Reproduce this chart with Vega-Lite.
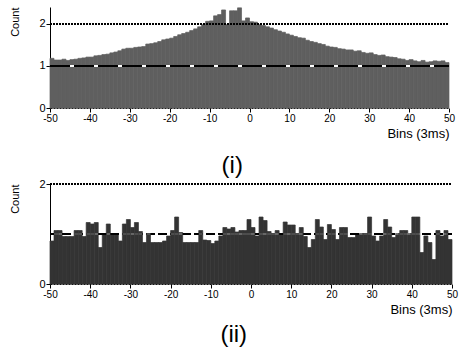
{
  "$schema": "https://vega.github.io/schema/vega-lite/v6.json",
  "padding": {"left": 9, "top": 6, "right": 2, "bottom": 2},
  "background": "white",
  "spacing": 0,
  "config": {
    "view": {"stroke": null},
    "axis": {
      "grid": false,
      "domainColor": "black",
      "tickColor": "black",
      "labelColor": "black",
      "titleColor": "black",
      "labelFont": "Liberation Sans",
      "labelFontSize": 10,
      "titleFont": "Liberation Sans",
      "titleFontWeight": "normal",
      "tickSize": 4,
      "labelPadding": 1,
      "labelFlush": false
    },
    "title": {"font": "Liberation Sans", "fontWeight": "normal", "color": "black"}
  },
  "datasets": {
    "top": [
      {"b":-50,"e":-49,"v":1.18},{"b":-49,"e":-48,"v":1.14},{"b":-48,"e":-47,"v":1.14},{"b":-47,"e":-46,"v":1.16},{"b":-46,"e":-45,"v":1.13},
      {"b":-45,"e":-44,"v":1.15},{"b":-44,"e":-43,"v":1.16},{"b":-43,"e":-42,"v":1.18},{"b":-42,"e":-41,"v":1.19},{"b":-41,"e":-40,"v":1.21},
      {"b":-40,"e":-39,"v":1.21},{"b":-39,"e":-38,"v":1.24},{"b":-38,"e":-37,"v":1.25},{"b":-37,"e":-36,"v":1.27},{"b":-36,"e":-35,"v":1.28},
      {"b":-35,"e":-34,"v":1.31},{"b":-34,"e":-33,"v":1.33},{"b":-33,"e":-32,"v":1.36},{"b":-32,"e":-31,"v":1.4},{"b":-31,"e":-30,"v":1.42},
      {"b":-30,"e":-29,"v":1.42},{"b":-29,"e":-28,"v":1.44},{"b":-28,"e":-27,"v":1.45},{"b":-27,"e":-26,"v":1.46},{"b":-26,"e":-25,"v":1.52},
      {"b":-25,"e":-24,"v":1.53},{"b":-24,"e":-23,"v":1.55},{"b":-23,"e":-22,"v":1.58},{"b":-22,"e":-21,"v":1.62},{"b":-21,"e":-20,"v":1.64},
      {"b":-20,"e":-19,"v":1.66},{"b":-19,"e":-18,"v":1.7},{"b":-18,"e":-17,"v":1.74},{"b":-17,"e":-16,"v":1.77},{"b":-16,"e":-15,"v":1.8},
      {"b":-15,"e":-14,"v":1.84},{"b":-14,"e":-13,"v":1.88},{"b":-13,"e":-12,"v":1.93},{"b":-12,"e":-11,"v":1.98},{"b":-11,"e":-10,"v":2.06},
      {"b":-10,"e":-9,"v":2.07},{"b":-9,"e":-8,"v":2.19},{"b":-8,"e":-7,"v":2.22},{"b":-7,"e":-6,"v":2.33},{"b":-6,"e":-5,"v":1.98},
      {"b":-5,"e":-4,"v":2.31},{"b":-4,"e":-3,"v":2.31},{"b":-3,"e":-2,"v":2.38},{"b":-2,"e":-1,"v":2.07},{"b":-1,"e":0,"v":2.14},
      {"b":0,"e":1,"v":2.05},{"b":1,"e":2,"v":2.04},{"b":2,"e":3,"v":1.98},{"b":3,"e":4,"v":1.96},{"b":4,"e":5,"v":1.93},
      {"b":5,"e":6,"v":1.9},{"b":6,"e":7,"v":1.86},{"b":7,"e":8,"v":1.83},{"b":8,"e":9,"v":1.8},{"b":9,"e":10,"v":1.76},
      {"b":10,"e":11,"v":1.73},{"b":11,"e":12,"v":1.7},{"b":12,"e":13,"v":1.67},{"b":13,"e":14,"v":1.66},{"b":14,"e":15,"v":1.61},
      {"b":15,"e":16,"v":1.58},{"b":16,"e":17,"v":1.56},{"b":17,"e":18,"v":1.53},{"b":18,"e":19,"v":1.51},{"b":19,"e":20,"v":1.47},
      {"b":20,"e":21,"v":1.45},{"b":21,"e":22,"v":1.44},{"b":22,"e":23,"v":1.41},{"b":23,"e":24,"v":1.4},{"b":24,"e":25,"v":1.38},
      {"b":25,"e":26,"v":1.38},{"b":26,"e":27,"v":1.35},{"b":27,"e":28,"v":1.36},{"b":28,"e":29,"v":1.32},{"b":29,"e":30,"v":1.3},
      {"b":30,"e":31,"v":1.31},{"b":31,"e":32,"v":1.27},{"b":32,"e":33,"v":1.25},{"b":33,"e":34,"v":1.26},{"b":34,"e":35,"v":1.22},
      {"b":35,"e":36,"v":1.21},{"b":36,"e":37,"v":1.2},{"b":37,"e":38,"v":1.17},{"b":38,"e":39,"v":1.16},{"b":39,"e":40,"v":1.13},
      {"b":40,"e":41,"v":1.15},{"b":41,"e":42,"v":1.12},{"b":42,"e":43,"v":1.1},{"b":43,"e":44,"v":1.13},{"b":44,"e":45,"v":1.09},
      {"b":45,"e":46,"v":1.1},{"b":46,"e":47,"v":1.12},{"b":47,"e":48,"v":1.11},{"b":48,"e":49,"v":1.12},{"b":49,"e":50,"v":1.08}
    ],
    "bottom": [
      {"b":-50,"e":-49,"v":0.86},{"b":-49,"e":-48,"v":1.07},{"b":-48,"e":-47,"v":1.07},{"b":-47,"e":-46,"v":0.95},{"b":-46,"e":-45,"v":0.95},
      {"b":-45,"e":-44,"v":0.95},{"b":-44,"e":-43,"v":1.07},{"b":-43,"e":-42,"v":1.07},{"b":-42,"e":-41,"v":0.95},{"b":-41,"e":-40,"v":1.23},
      {"b":-40,"e":-39,"v":1.2},{"b":-39,"e":-38,"v":1.23},{"b":-38,"e":-37,"v":0.73},{"b":-37,"e":-36,"v":1.0},{"b":-36,"e":-35,"v":1.2},
      {"b":-35,"e":-34,"v":0.99},{"b":-34,"e":-33,"v":0.99},{"b":-33,"e":-32,"v":0.86},{"b":-32,"e":-31,"v":1.2},{"b":-31,"e":-30,"v":1.29},
      {"b":-30,"e":-29,"v":1.13},{"b":-29,"e":-28,"v":1.23},{"b":-28,"e":-27,"v":1.05},{"b":-27,"e":-26,"v":0.83},{"b":-26,"e":-25,"v":1.01},
      {"b":-25,"e":-24,"v":0.83},{"b":-24,"e":-23,"v":0.83},{"b":-23,"e":-22,"v":0.83},{"b":-22,"e":-21,"v":0.86},{"b":-21,"e":-20,"v":0.96},
      {"b":-20,"e":-19,"v":1.07},{"b":-19,"e":-18,"v":1.34},{"b":-18,"e":-17,"v":1.03},{"b":-17,"e":-16,"v":0.83},{"b":-16,"e":-15,"v":0.83},
      {"b":-15,"e":-14,"v":0.83},{"b":-14,"e":-13,"v":0.83},{"b":-13,"e":-12,"v":1.07},{"b":-12,"e":-11,"v":0.88},{"b":-11,"e":-10,"v":0.87},
      {"b":-10,"e":-9,"v":0.81},{"b":-9,"e":-8,"v":0.86},{"b":-8,"e":-7,"v":0.96},{"b":-7,"e":-6,"v":1.13},{"b":-6,"e":-5,"v":1.1},
      {"b":-5,"e":-4,"v":1.13},{"b":-4,"e":-3,"v":1.04},{"b":-3,"e":-2,"v":1.07},{"b":-2,"e":-1,"v":1.07},{"b":-1,"e":0,"v":1.29},
      {"b":0,"e":1,"v":1.13},{"b":1,"e":2,"v":0.96},{"b":2,"e":3,"v":1.34},{"b":3,"e":4,"v":1.27},{"b":4,"e":5,"v":1.05},
      {"b":5,"e":6,"v":1.01},{"b":6,"e":7,"v":1.07},{"b":7,"e":8,"v":1.0},{"b":8,"e":9,"v":1.24},{"b":9,"e":10,"v":1.18},
      {"b":10,"e":11,"v":1.18},{"b":11,"e":12,"v":1.01},{"b":12,"e":13,"v":1.13},{"b":13,"e":14,"v":0.95},{"b":14,"e":15,"v":0.73},
      {"b":15,"e":16,"v":0.89},{"b":16,"e":17,"v":1.29},{"b":17,"e":18,"v":1.14},{"b":18,"e":19,"v":0.89},{"b":19,"e":20,"v":1.19},
      {"b":20,"e":21,"v":1.09},{"b":21,"e":22,"v":0.89},{"b":22,"e":23,"v":1.13},{"b":23,"e":24,"v":1.13},{"b":24,"e":25,"v":0.93},
      {"b":25,"e":26,"v":0.93},{"b":26,"e":27,"v":0.99},{"b":27,"e":28,"v":1.01},{"b":28,"e":29,"v":1.01},{"b":29,"e":30,"v":1.34},
      {"b":30,"e":31,"v":0.96},{"b":31,"e":32,"v":0.86},{"b":32,"e":33,"v":0.96},{"b":33,"e":34,"v":1.29},{"b":34,"e":35,"v":1.14},
      {"b":35,"e":36,"v":0.93},{"b":36,"e":37,"v":1.01},{"b":37,"e":38,"v":1.07},{"b":38,"e":39,"v":1.07},{"b":39,"e":40,"v":1.01},
      {"b":40,"e":41,"v":1.34},{"b":41,"e":42,"v":1.34},{"b":42,"e":43,"v":0.63},{"b":43,"e":44,"v":0.96},{"b":44,"e":45,"v":0.83},
      {"b":45,"e":46,"v":0.49},{"b":46,"e":47,"v":1.07},{"b":47,"e":48,"v":0.96},{"b":48,"e":49,"v":1.07},{"b":49,"e":50,"v":0.89}
    ]
  },
  "vconcat": [
    {
      "width": 399,
      "height": 101,
      "title": {"text": "(i)", "orient": "bottom", "fontSize": 24, "frame": "bounds", "anchor": "middle", "offset": 14},
      "data": {"name": "top"},
      "encoding": {
        "x": {"field": "b", "type": "quantitative", "scale": {"domain": [-50, 50], "nice": false, "zero": false},
          "axis": {"values": [-50,-40,-30,-20,-10,0,10,20,30,40,50], "labelExpr": "'' + datum.value", "title": "Bins (3ms)", "titleFontSize": 13, "titleAnchor": "end", "titlePadding": 4, "domainDash": [2, 1]}},
        "y": {"field": "v", "type": "quantitative", "scale": {"domain": [0, 2.4], "nice": false},
          "axis": {"values": [0, 1, 2], "format": "d", "title": "Count", "titleFontSize": 11, "titleAnchor": "end", "titlePadding": 18, "labelFontSize": 11}}
      },
      "layer": [
        {"mark": {"type": "bar", "color": "#5f5f5f", "stroke": "#5f5f5f", "strokeWidth": 0.7}, "encoding": {"x2": {"field": "e"}, "y2": {"datum": 0}}},
        {"mark": {"type": "rule", "color": "black", "strokeDash": [2, 1], "strokeWidth": 1}, "encoding": {"x": {"datum": -50}, "x2": {"datum": 50}, "y": {"datum": 2}}},
        {"mark": {"type": "rule", "color": "white", "strokeWidth": 1}, "encoding": {"x": {"datum": -50}, "x2": {"datum": 50}, "y": {"datum": 1}}},
        {"mark": {"type": "rule", "color": "black", "strokeDash": [20, 4], "strokeWidth": 1}, "encoding": {"x": {"datum": -50}, "x2": {"datum": 50}, "y": {"datum": 1}}}
      ]
    },
    {
      "width": 402,
      "height": 100,
      "title": {"text": "(ii)", "orient": "bottom", "fontSize": 24, "frame": "bounds", "anchor": "middle", "offset": 7},
      "data": {"name": "bottom"},
      "encoding": {
        "x": {"field": "b", "type": "quantitative", "scale": {"domain": [-50, 50], "nice": false, "zero": false},
          "axis": {"values": [-50,-40,-30,-20,-10,0,10,20,30,40,50], "labelExpr": "'' + datum.value", "title": "Bins (3ms)", "titleFontSize": 13, "titleAnchor": "end", "titlePadding": 4, "domainDash": [2, 1]}},
        "y": {"field": "v", "type": "quantitative", "scale": {"domain": [0, 2], "nice": false},
          "axis": {"values": [0, 1, 2], "format": "d", "title": "Count", "titleFontSize": 11, "titleAnchor": "end", "titlePadding": 18, "labelFontSize": 11}}
      },
      "layer": [
        {"mark": {"type": "bar", "color": "#333333", "stroke": "#333333", "strokeWidth": 0.7}, "encoding": {"x2": {"field": "e"}, "y2": {"datum": 0}}},
        {"mark": {"type": "rule", "color": "black", "strokeDash": [2, 1], "strokeWidth": 1}, "encoding": {"x": {"datum": -50}, "x2": {"datum": 50}, "y": {"datum": 2}}},
        {"mark": {"type": "rule", "color": "black", "strokeDash": [9, 3], "strokeWidth": 1}, "encoding": {"x": {"datum": -50}, "x2": {"datum": 50}, "y": {"datum": 1}}},
        {"transform": [{"filter": "datum.v > 1"}], "mark": {"type": "rule", "color": "#9a9a9a", "strokeDash": [9, 3], "strokeWidth": 1}, "encoding": {"x": {"field": "b"}, "x2": {"field": "e"}, "y": {"datum": 1}}}
      ]
    }
  ]
}
